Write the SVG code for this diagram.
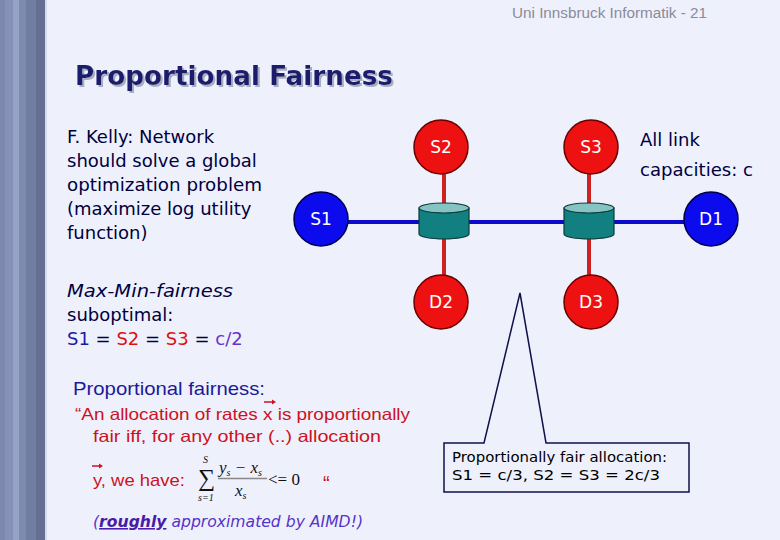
<svg xmlns="http://www.w3.org/2000/svg" width="780" height="540" viewBox="0 0 780 540">
<defs>
<style>
.comic{font-family:"DejaVu Sans","Noto Sans",sans-serif;}
.sans{font-family:"Liberation Sans",Arial,sans-serif;}
.serif{font-family:"Liberation Serif","Times New Roman",serif;}
.lbl{font-family:"DejaVu Sans",sans-serif;font-size:17px;fill:#ffffff;text-anchor:middle;}
.red{fill:#ee1111;stroke:#6a0000;stroke-width:1.5;}
.blue{fill:#0b0bee;stroke:#00004a;stroke-width:1.5;}
.lkb{stroke:#0a0acc;stroke-width:4;}
.lkr{stroke:#cc2222;stroke-width:4;}
.body{fill:#128080;stroke:#0a3a3a;stroke-width:1.2;}
.top{fill:#86c4c4;stroke:#0a3a3a;stroke-width:1.2;}
</style>
<filter id="shadow" x="-5%" y="-20%" width="110%" height="140%">
<feDropShadow dx="2" dy="2" stdDeviation="0.3" flood-color="#a8adc4" flood-opacity="1"/>
</filter>
</defs>
<rect width="780" height="540" fill="#eef1fb"/>
<g id="strip">
<rect x="0" y="0" width="5" height="540" fill="#7c88ac"/>
<rect x="5" y="0" width="8" height="540" fill="#8591b6"/>
<rect x="13" y="0" width="6" height="540" fill="#96a3c8"/>
<rect x="19" y="0" width="7" height="540" fill="#7e8aae"/>
<rect x="26" y="0" width="10" height="540" fill="#717da1"/>
<rect x="36" y="0" width="9" height="540" fill="#656f93"/>
<rect x="45" y="0" width="2" height="540" fill="#d6dcee"/>
</g>
<text class="sans" x="512" y="18" font-size="14" fill="#8a8a9c" textLength="195" lengthAdjust="spacingAndGlyphs">Uni Innsbruck Informatik - 21</text>
<g id="title">
<text class="comic" x="75" y="85" font-size="26" font-weight="bold" fill="#1c1c6c" filter="url(#shadow)" textLength="318" lengthAdjust="spacingAndGlyphs">Proportional Fairness</text>
</g>
<g id="kelly" class="comic" font-size="18" fill="#000040">
<text x="67" y="143">F. Kelly: Network</text>
<text x="67" y="167">should solve a global</text>
<text x="67" y="191" textLength="195" lengthAdjust="spacingAndGlyphs">optimization problem</text>
<text x="67" y="215">(maximize log utility</text>
<text x="67" y="239">function)</text>
</g>
<g id="maxmin" class="comic" font-size="18" fill="#000040">
<text x="67" y="297" font-style="italic" textLength="166" lengthAdjust="spacingAndGlyphs">Max-Min-fairness</text>
<text x="67" y="321">suboptimal:</text>
<text x="67" y="345"><tspan fill="#1a1aa8">S1</tspan> = <tspan fill="#dd1111">S2</tspan> = <tspan fill="#dd1111">S3</tspan> = <tspan fill="#6633cc">c/2</tspan></text>
</g>
<g id="connectors">
<line class="lkb" x1="345" y1="222" x2="685" y2="222"/>
<line class="lkr" x1="444" y1="172" x2="444" y2="210"/>
<line class="lkr" x1="444" y1="236" x2="444" y2="276"/>
<line class="lkr" x1="589" y1="172" x2="589" y2="210"/>
<line class="lkr" x1="589" y1="236" x2="589" y2="276"/>
</g>
<g id="R1">
<path class="body" d="M419,208 V234 A25,5 0 0 0 469,234 V208 Z"/>
<ellipse class="top" cx="444" cy="208" rx="25" ry="5"/>
</g>
<g id="R2">
<path class="body" d="M564,208 V234 A25,5 0 0 0 614,234 V208 Z"/>
<ellipse class="top" cx="589" cy="208" rx="25" ry="5"/>
</g>
<g id="S1"><circle class="blue" cx="321" cy="219" r="27"/><text class="lbl" x="321" y="225">S1</text></g>
<g id="D1"><circle class="blue" cx="711" cy="219" r="27"/><text class="lbl" x="711" y="225">D1</text></g>
<g id="S2"><circle class="red" cx="441" cy="147" r="27"/><text class="lbl" x="441" y="153">S2</text></g>
<g id="S3"><circle class="red" cx="591" cy="147" r="27"/><text class="lbl" x="591" y="153">S3</text></g>
<g id="D2"><circle class="red" cx="441" cy="302" r="27"/><text class="lbl" x="441" y="308">D2</text></g>
<g id="D3"><circle class="red" cx="591" cy="302" r="27"/><text class="lbl" x="591" y="308">D3</text></g>
<g id="caps" class="comic" font-size="18" fill="#000040">
<text x="640" y="146">All link</text>
<text x="640" y="176" textLength="113" lengthAdjust="spacingAndGlyphs">capacities: c</text>
</g>
<g id="callout">
<path d="M444,443 H484 L520,293 L546,443 H689 V492 H444 Z" fill="#eef1fb" stroke="#10104a" stroke-width="1.5"/>
<text class="comic" x="452" y="462" font-size="13.5" fill="#000000" textLength="215" lengthAdjust="spacingAndGlyphs">Proportionally fair allocation:</text>
<text class="comic" x="452" y="480" font-size="13.5" fill="#000000" textLength="208" lengthAdjust="spacingAndGlyphs">S1 = c/3, S2 = S3 = 2c/3</text>
</g>
<g id="pf">
<text class="sans" x="73" y="395" font-size="19" fill="#1a1a99" textLength="192" lengthAdjust="spacingAndGlyphs">Proportional fairness:</text>
<g class="sans" font-size="16.5" fill="#cc1122">
<text x="75" y="420" textLength="335" lengthAdjust="spacingAndGlyphs">“An allocation of rates x is proportionally</text>
<text x="93" y="442" textLength="288" lengthAdjust="spacingAndGlyphs">fair iff, for any other (..) allocation</text>
<text x="93" y="486" font-size="17" textLength="92" lengthAdjust="spacingAndGlyphs">y, we have:</text>
<text x="323" y="490" font-size="20">“</text>
</g>
<g stroke="#cc1122" stroke-width="1.5" fill="#cc1122">
<line x1="264" y1="402" x2="273" y2="402"/><path d="M272,399.5 L276,402 L272,404.5 Z" stroke="none"/>
<line x1="92" y1="466" x2="100" y2="466"/><path d="M99,463.5 L103,466 L99,468.5 Z" stroke="none"/>
</g>
</g>
<g id="formula" class="serif" fill="#111111">
<text x="198" y="486" font-size="24">∑</text>
<text x="203" y="463" font-size="10" font-style="italic">S</text>
<text x="198" y="501" font-size="10" font-style="italic">s=1</text>
<text x="219" y="473" font-size="17" font-style="italic">y<tspan font-size="10" dy="3">s</tspan><tspan dy="-3"> − x</tspan><tspan font-size="10" dy="3">s</tspan></text>
<line x1="218" y1="478.5" x2="267" y2="478.5" stroke="#888888" stroke-width="1.5"/>
<text x="235" y="496" font-size="17" font-style="italic">x<tspan font-size="10" dy="3">s</tspan></text>
<text x="268" y="485" font-size="17">&lt;= 0</text>
</g>
<text class="comic" x="93" y="527" font-size="15.5" font-style="italic" fill="#5533cc" textLength="270" lengthAdjust="spacingAndGlyphs">(<tspan fill="#4a1aa8" font-weight="bold" text-decoration="underline">roughly</tspan> approximated by AIMD!)</text>
</svg>
